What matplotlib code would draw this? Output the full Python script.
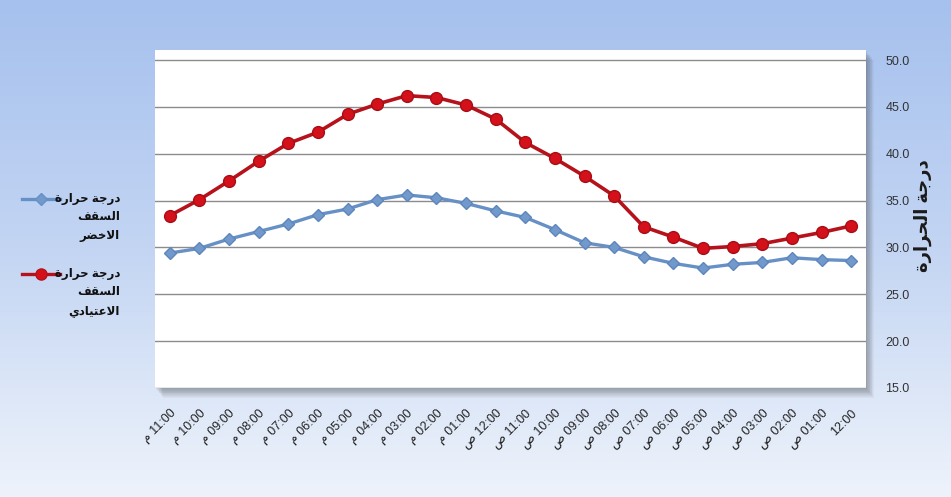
import matplotlib.pyplot as plt
import numpy as np
from matplotlib.patches import Rectangle
from matplotlib.lines import Line2D
from matplotlib.colors import LinearSegmentedColormap

plt.rcParams['font.family'] = ['Liberation Sans', 'DejaVu Sans']

# data
hours = ['11:00', '10:00', '09:00', '08:00', '07:00', '06:00', '05:00', '04:00',
         '03:00', '02:00', '01:00', '12:00', '11:00', '10:00', '09:00', '08:00',
         '07:00', '06:00', '05:00', '04:00', '03:00', '02:00', '01:00', '12:00']
periods = ['م'] * 11 + ['ص'] * 12 + ['']
green_roof = [29.4, 29.9, 30.9, 31.7, 32.5, 33.5, 34.1, 35.1, 35.6, 35.3, 34.7, 33.9,
              33.2, 31.9, 30.5, 30.0, 29.0, 28.3, 27.8, 28.2, 28.4, 28.9, 28.7, 28.6]
normal_roof = [33.4, 35.1, 37.1, 39.2, 41.1, 42.3, 44.2, 45.3, 46.2, 46.0, 45.2, 43.7,
               41.2, 39.5, 37.6, 35.5, 32.2, 31.1, 29.9, 30.1, 30.4, 31.0, 31.6, 32.3]
y_ticks = [15, 20, 25, 30, 35, 40, 45, 50]

green_label = 'درجة حرارة\nالسقف\nالاخضر'
normal_label = 'درجة حرارة\nالسقف\nالاعتيادي'
y_title = 'درجة الحرارة'

# arabic presentation forms: isolated, final, initial, medial
FORMS = {
    'ا': '\ufe8d\ufe8e', 'د': '\ufea9\ufeaa', 'ر': '\ufead\ufeae', 'ة': '\ufe93\ufe94',
    '\ufefb': '\ufefb\ufefc',
    'ت': '\ufe95\ufe96\ufe97\ufe98', 'ج': '\ufe9d\ufe9e\ufe9f\ufea0',
    'ح': '\ufea1\ufea2\ufea3\ufea4', 'خ': '\ufea5\ufea6\ufea7\ufea8',
    'س': '\ufeb1\ufeb2\ufeb3\ufeb4', 'ص': '\ufeb9\ufeba\ufebb\ufebc',
    'ض': '\ufebd\ufebe\ufebf\ufec0', 'ع': '\ufec9\ufeca\ufecb\ufecc',
    'ف': '\ufed1\ufed2\ufed3\ufed4', 'ق': '\ufed5\ufed6\ufed7\ufed8',
    'ل': '\ufedd\ufede\ufedf\ufee0', 'م': '\ufee1\ufee2\ufee3\ufee4',
    'ي': '\ufef1\ufef2\ufef3\ufef4',
}


def shape_word(word):
    chars = list(word.replace('لا', '\ufefb'))
    out = []
    for i, c in enumerate(chars):
        f = FORMS[c]
        prev_joins = i > 0 and len(FORMS[chars[i - 1]]) == 4
        next_joins = len(f) == 4 and i < len(chars) - 1
        if prev_joins and next_joins:
            out.append(f[3])
        elif prev_joins:
            out.append(f[1])
        elif next_joins:
            out.append(f[2])
        else:
            out.append(f[0])
    return ''.join(out)


def arabic(text):
    lines = []
    for line in text.split('\n'):
        lines.append(' '.join(shape_word(w) for w in line.split(' '))[::-1])
    return '\n'.join(lines)


fig = plt.figure(figsize=(9.51, 4.97), dpi=100)

# gradient background
bg = fig.add_axes([0, 0, 1, 1], zorder=-5)
cmap = LinearSegmentedColormap.from_list('bg', ['#a6c1ee', '#c3d5f3', '#eef3fb'])
bg.imshow(np.linspace(0, 1, 200).reshape(-1, 1), aspect='auto', cmap=cmap,
          extent=[0, 1, 0, 1])
bg.set_axis_off()

left, bottom, width, height = 155 / 951, 1 - 388 / 497, 711 / 951, 338 / 497

# soft shadow round the plot area
for k in range(1, 12):
    fig.patches.append(Rectangle((left + k * 0.7 / 951, bottom - k * 0.9 / 497), width, height,
                                 transform=fig.transFigure, facecolor='#404040',
                                 edgecolor='none', alpha=0.045, zorder=-2))

ax = fig.add_axes([left, bottom, width, height])
ax.set_facecolor('white')
x = np.arange(len(hours))

ax.plot(x, green_roof, color='#6690c6', lw=2.4, marker='D', ms=6.5,
        markerfacecolor='#7199cc', markeredgecolor='#5d86bd', zorder=3)
ax.plot(x, normal_roof, color='#b5121b', lw=2.6, marker='o', ms=8.5,
        markerfacecolor='#d4111a', markeredgecolor='#a80d14', zorder=4)

ax.set_xlim(-0.5, len(hours) - 0.5)
ax.set_ylim(15, 51.07)
ax.set_yticks(y_ticks)
ax.set_yticklabels([f'{v:.1f}' for v in y_ticks], fontsize=9, color='#333333')
ax.yaxis.tick_right()
ax.tick_params(axis='y', length=0, pad=14)
ax.grid(axis='y', color='#8c8c8c', lw=1)
ax.set_axisbelow(True)
for s in ax.spines.values():
    s.set_visible(False)

ax.set_xticks(x)
ax.set_xticklabels([f'{p} {h}'.strip() for p, h in zip(periods, hours)],
                   rotation=45, ha='right', rotation_mode='anchor',
                   fontsize=9, color='#222222')
ax.tick_params(axis='x', length=0, pad=14)

ax.set_ylabel(arabic(y_title), fontsize=13, fontweight='bold', rotation=90,
              color='#1a1a1a')
ax.yaxis.set_label_coords(1.093, 0.51)

# legend on the left
for ly, label, color, mk, ms, mfc in [(199, green_label, '#6690c6', 'D', 6, '#7199cc'),
                                      (274, normal_label, '#b5121b', 'o', 8, '#d4111a')]:
    yf = 1 - ly / 497
    fig.add_artist(Line2D([22 / 951, 60 / 951], [yf, yf], transform=fig.transFigure,
                          color=color, lw=2.4))
    fig.add_artist(Line2D([41 / 951], [yf], transform=fig.transFigure, marker=mk,
                          ms=ms, color=mfc, markeredgecolor=color))
    fig.text(120 / 951, yf + 6 / 497, arabic(label), ha='right', va='top',
             fontsize=8.5, fontweight='bold', color='#111111', linespacing=1.7,
             multialignment='right')

fig.savefig('out.png', dpi=100)
